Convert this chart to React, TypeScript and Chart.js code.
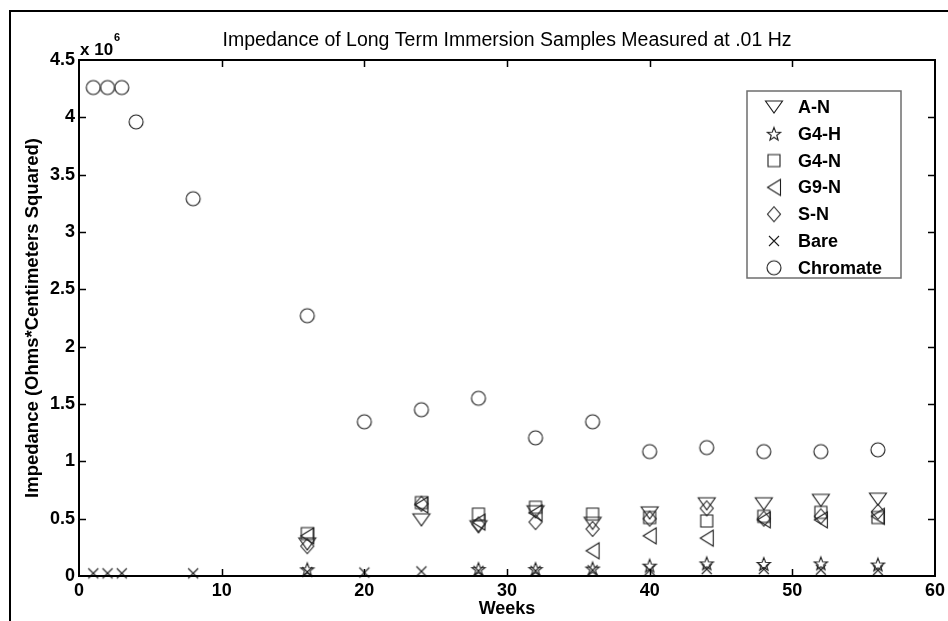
import React, { useEffect, useRef } from 'react';
import { Chart, registerables } from 'chart.js';

Chart.register(...registerables);

// ---------- data ----------
const TITLE = 'Impedance of Long Term Immersion Samples Measured at .01 Hz';
const X_LABEL = 'Weeks';
const Y_LABEL = 'Impedance (Ohms*Centimeters Squared)';
const EXPONENT = 6;
const UNIT = 1e6;

const X_TICKS = [0, 10, 20, 30, 40, 50, 60];
const Y_TICKS = [0, 0.5, 1, 1.5, 2, 2.5, 3, 3.5, 4, 4.5];

const SERIES_NAMES = ['A-N', 'G4-H', 'G4-N', 'G9-N', 'S-N', 'Bare', 'Chromate'];

const WEEKS_COATED = [16, 24, 28, 32, 36, 40, 44, 48, 52, 56];
const A_N = [0.28, 0.49, 0.43, 0.56, 0.46, 0.55, 0.63, 0.63, 0.66, 0.67];
const G4_N = [0.37, 0.64, 0.54, 0.6, 0.54, 0.51, 0.48, 0.52, 0.555, 0.51];
const G9_N = [0.35, 0.62, 0.47, 0.55, 0.22, 0.35, 0.33, 0.49, 0.49, 0.52];
const S_N = [0.26, 0.63, 0.45, 0.47, 0.41, 0.5, 0.59, 0.5, 0.52, 0.56];

const WEEKS_G4H = [16, 28, 32, 36, 40, 44, 48, 52, 56];
const G4_H = [0.058, 0.06, 0.06, 0.065, 0.09, 0.11, 0.105, 0.11, 0.1];

const WEEKS_BARE = [1, 2, 3, 8, 16, 20, 24, 28, 32, 36, 40, 44, 48, 52, 56];
const BARE = [0.023, 0.023, 0.023, 0.023, 0.035, 0.03, 0.04, 0.045, 0.045, 0.05, 0.05, 0.06, 0.06, 0.055, 0.05];

const WEEKS_CHROMATE = [1, 2, 3, 4, 8, 16, 20, 24, 28, 32, 36, 40, 44, 48, 52, 56];
const CHROMATE = [4.26, 4.26, 4.26, 3.96, 3.29, 2.27, 1.345, 1.45, 1.55, 1.205, 1.345, 1.085, 1.12, 1.085, 1.085, 1.1];

// ---------- styling ----------
const FONT = '"Liberation Sans", Arial, Helvetica, sans-serif';
const MARK = '#1e1e1e';

function makeMarker(kind: string): HTMLCanvasElement {
  const s = 22;
  const c = document.createElement('canvas');
  c.width = s;
  c.height = s;
  const g = c.getContext('2d')!;
  g.strokeStyle = MARK;
  g.lineWidth = 1.1;
  const m = s / 2;
  g.beginPath();
  if (kind === 'triDown') {
    g.moveTo(m - 8.5, m - 6);
    g.lineTo(m + 8.5, m - 6);
    g.lineTo(m, m + 6);
    g.closePath();
  } else if (kind === 'star') {
    const R = 7, r = 2.9;
    for (let i = 0; i < 10; i++) {
      const a = -Math.PI / 2 + (i * Math.PI) / 5;
      const rad = i % 2 === 0 ? R : r;
      const px = m + rad * Math.cos(a);
      const py = m + 0.6 + rad * Math.sin(a);
      if (i === 0) g.moveTo(px, py);
      else g.lineTo(px, py);
    }
    g.closePath();
  } else if (kind === 'square') {
    g.rect(m - 6, m - 6, 12, 12);
  } else if (kind === 'triLeft') {
    g.moveTo(m - 6.5, m);
    g.lineTo(m + 6.5, m - 8);
    g.lineTo(m + 6.5, m + 8);
    g.closePath();
  } else if (kind === 'diamond') {
    g.moveTo(m, m - 7.5);
    g.lineTo(m + 6.5, m);
    g.lineTo(m, m + 7.5);
    g.lineTo(m - 6.5, m);
    g.closePath();
  } else if (kind === 'x') {
    g.moveTo(m - 5, m - 5);
    g.lineTo(m + 5, m + 5);
    g.moveTo(m + 5, m - 5);
    g.lineTo(m - 5, m + 5);
  } else if (kind === 'circle') {
    g.arc(m, m, 7, 0, Math.PI * 2);
  }
  g.stroke();
  return c;
}

const MARKER_KINDS = ['triDown', 'star', 'square', 'triLeft', 'diamond', 'x', 'circle'];

function pts(weeks: number[], vals: number[]) {
  return weeks.map((w, i) => ({ x: w, y: vals[i] * UNIT }));
}

export default function App() {
  const ref = useRef<HTMLCanvasElement | null>(null);

  useEffect(() => {
    const canvas = ref.current;
    if (!canvas) return;
    const markers = MARKER_KINDS.map(makeMarker);
    const seriesData = [
      pts(WEEKS_COATED, A_N),
      pts(WEEKS_G4H, G4_H),
      pts(WEEKS_COATED, G4_N),
      pts(WEEKS_COATED, G9_N),
      pts(WEEKS_COATED, S_N),
      pts(WEEKS_BARE, BARE),
      pts(WEEKS_CHROMATE, CHROMATE),
    ];

    const framePlugin = {
      id: 'frame',
      beforeDraw(chart: any) {
        const ctx = chart.ctx;
        ctx.save();
        ctx.fillStyle = '#ffffff';
        ctx.fillRect(0, 0, chart.width, chart.height);
        ctx.restore();
      },
      afterDraw(chart: any) {
        const ctx = chart.ctx;
        const { left, right, top, bottom } = chart.chartArea;
        const xs = chart.scales.x;
        const ys = chart.scales.y;
        ctx.save();
        // outer figure border
        ctx.strokeStyle = '#000';
        ctx.lineWidth = 2;
        ctx.beginPath();
        ctx.moveTo(10, chart.height);
        ctx.lineTo(10, 11);
        ctx.lineTo(chart.width, 11);
        ctx.stroke();
        // axes box
        ctx.strokeRect(left, top, right - left, bottom - top);
        // inward ticks
        const TL = 7;
        ctx.lineWidth = 1.5;
        ctx.beginPath();
        X_TICKS.slice(1, -1).forEach((v) => {
          const px = Math.round(xs.getPixelForValue(v)) + 0.5;
          ctx.moveTo(px, bottom);
          ctx.lineTo(px, bottom - TL);
          ctx.moveTo(px, top);
          ctx.lineTo(px, top + TL);
        });
        Y_TICKS.slice(1, -1).forEach((v) => {
          const py = Math.round(ys.getPixelForValue(v * UNIT)) + 0.5;
          ctx.moveTo(left, py);
          ctx.lineTo(left + TL, py);
          ctx.moveTo(right, py);
          ctx.lineTo(right - TL, py);
        });
        ctx.stroke();
        // exponent label
        ctx.fillStyle = '#000';
        ctx.font = `bold 17px ${FONT}`;
        ctx.textAlign = 'left';
        ctx.textBaseline = 'alphabetic';
        ctx.fillText('x 10', left + 1, top - 5);
        const w = ctx.measureText('x 10').width;
        ctx.font = `bold 11px ${FONT}`;
        ctx.fillText(String(EXPONENT), left + 2 + w, top - 19);
        // legend
        const lx = 747, ly = 91, lw = 154, lh = 187;
        ctx.strokeStyle = '#6e6e6e';
        ctx.lineWidth = 1.5;
        ctx.strokeRect(lx, ly, lw, lh);
        ctx.font = `bold 18px ${FONT}`;
        ctx.textBaseline = 'middle';
        SERIES_NAMES.forEach((name, i) => {
          const cy = 107 + i * 26.8;
          const mk = markers[i];
          ctx.drawImage(mk, 774 - mk.width / 2, cy - mk.height / 2);
          ctx.fillText(name, 798, cy + 1);
        });
        ctx.restore();
      },
    };

    const chart = new Chart(canvas, {
      type: 'scatter',
      data: {
        datasets: SERIES_NAMES.map((name, i) => ({
          label: name,
          data: seriesData[i],
          pointStyle: markers[i] as any,
          pointRadius: 6,
          showLine: false,
          clip: false as any,
          borderColor: MARK,
          backgroundColor: 'transparent',
        })),
      },
      options: {
        animation: false,
        responsive: false,
        maintainAspectRatio: false,
        events: [],
        layout: { padding: { left: 0, right: 13, top: 16, bottom: 0 } },
        plugins: {
          legend: { display: false },
          tooltip: { enabled: false },
          title: {
            display: true,
            text: TITLE,
            fullSize: false,
            color: '#000',
            font: { family: FONT, size: 19.5, weight: 'normal' as any },
            padding: { top: 13, bottom: 7.6 },
          },
        },
        scales: {
          x: {
            type: 'linear',
            min: 0,
            max: 60,
            grid: { display: false, drawTicks: false, tickLength: 0 },
            border: { display: false },
            afterBuildTicks: (s: any) => {
              s.ticks = X_TICKS.map((v) => ({ value: v }));
            },
            ticks: {
              color: '#000',
              padding: 4,
              maxRotation: 0,
              font: { family: FONT, size: 18, weight: 'bold' as any },
              callback: (v: any) => String(v),
            },
            title: {
              display: true,
              text: X_LABEL,
              color: '#000',
              font: { family: FONT, size: 18, weight: 'bold' as any },
              padding: { top: 0, bottom: 1 },
            },
            afterFit: (s: any) => {
              s.height = 45;
              s.paddingLeft = 0;
              s.paddingRight = 0;
            },
          },
          y: {
            type: 'linear',
            min: 0,
            max: 4.5 * UNIT,
            grid: { display: false, drawTicks: false, tickLength: 0 },
            border: { display: false },
            afterBuildTicks: (s: any) => {
              s.ticks = Y_TICKS.map((v) => ({ value: v * UNIT }));
            },
            ticks: {
              color: '#000',
              padding: 4,
              font: { family: FONT, size: 18, weight: 'bold' as any },
              callback: (v: any) => String(Math.round((Number(v) / UNIT) * 10) / 10),
            },
            title: {
              display: true,
              text: Y_LABEL,
              color: '#000',
              font: { family: FONT, size: 18.5, weight: 'bold' as any },
              padding: { top: 22, bottom: 0 },
            },
            afterFit: (s: any) => {
              s.width = 79;
              s.paddingTop = 0;
              s.paddingBottom = 0;
            },
          },
        },
      },
      plugins: [framePlugin],
    });

    return () => chart.destroy();
  }, []);

  return (
    <div style={{ position: 'fixed', left: 0, top: 0, width: 948, height: 621, background: '#fff' }}>
      <canvas ref={ref} width={948} height={621} style={{ display: 'block', width: 948, height: 621 }} />
    </div>
  );
}
